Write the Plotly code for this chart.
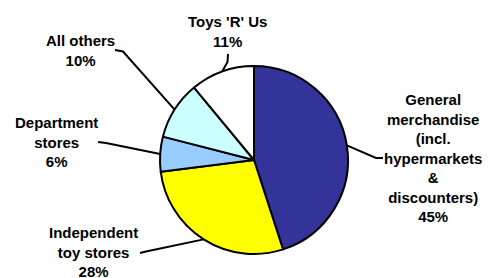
import math
import plotly.graph_objects as go

# Data
categories = ["General<br>merchandise<br>(incl.<br>hypermarkets<br>&<br>discounters)",
              "Independent<br>toy stores",
              "Department<br>stores",
              "All others",
              "Toys 'R' Us"]
shares = [45, 28, 6, 10, 11]
colors = ["#333399", "#FFFF00", "#99CCFF", "#CCFFFF", "#FFFFFF"]

# Layout (pixel space of a 489x278 canvas, y downward)
W, H = 489, 278
cx, cy, r = 254, 160, 94
label_pos = [(433, 158), (93, 252), (56, 142), (80, 50), (227.5, 31)]
leader_tail = [[(383, 158), (376, 158)],
               [(140, 253), (146, 251.5)],
               [(98, 142), (106, 143)],
               [(115, 50), (123, 51.5)],
               [(228, 54), (227.5, 62)]]

fig = go.Figure()

# leader lines from slice mid-angle edge to label
total = sum(shares)
cum = 0
for i, v in enumerate(shares):
    mid = (cum + v / 2) / total * 2 * math.pi
    cum += v
    ex = cx + r * math.sin(mid)
    ey = cy - r * math.cos(mid)
    pts = leader_tail[i] + [(ex, ey)]
    fig.add_trace(go.Scatter(x=[p[0] for p in pts], y=[p[1] for p in pts],
                             mode="lines", line=dict(color="black", width=2),
                             hoverinfo="skip", showlegend=False))

fig.add_trace(go.Pie(
    labels=categories, values=shares, sort=False, direction="clockwise",
    rotation=0, textinfo="none", hoverinfo="label+percent",
    marker=dict(colors=colors, line=dict(color="black", width=2)),
    domain=dict(x=[(cx - r) / W, (cx + r) / W],
                y=[(H - cy - r) / H, (H - cy + r) / H]),
    showlegend=False,
))

for (lx, ly), cat, v in zip(label_pos, categories, shares):
    fig.add_annotation(x=lx, y=ly, xref="x", yref="y", showarrow=False,
                       text=f"<b>{cat}<br>{v}%</b>", align="center",
                       xanchor="center", yanchor="middle",
                       font=dict(family="Liberation Sans, Arial, sans-serif",
                                 size=15, color="black"))

fig.update_layout(
    width=W, height=H, margin=dict(l=0, r=0, t=0, b=0),
    paper_bgcolor="white", plot_bgcolor="white",
    xaxis=dict(range=[0, W], visible=False, fixedrange=True),
    yaxis=dict(range=[H, 0], visible=False, fixedrange=True),
    showlegend=False,
)

fig.write_html("out.html", config={"displayModeBar": False},
               post_script="document.body.style.margin='0';document.body.style.overflow='hidden';")
